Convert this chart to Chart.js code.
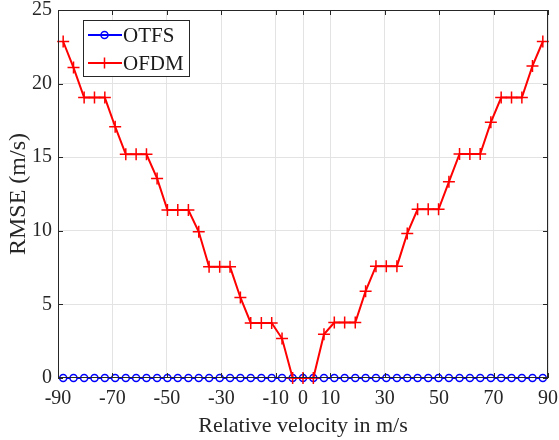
<!DOCTYPE html>
<html>
<head>
<meta charset="utf-8">
<script src="https://cdn.jsdelivr.net/npm/chart.js@4"></script>
<style>
  html, body { margin: 0; padding: 0; background: #fff; }
  #wrap { width: 559px; height: 440px; }
</style>
</head>
<body>
<div id="wrap"><canvas id="chart"></canvas></div>
<script>
// velocity grid (m/s), 47 Doppler bins
var velocity = [-88.1, -84.3, -80.4, -76.6, -72.8, -69.0, -65.1, -61.3, -57.5, -53.6, -49.8, -46.0,
  -42.1, -38.3, -34.5, -30.6, -26.8, -23.0, -19.2, -15.3, -11.5, -7.7, -3.8, 0,
  3.8, 7.7, 11.5, 15.3, 19.2, 23.0, 26.8, 30.6, 34.5, 38.3, 42.1, 46.0,
  49.8, 53.6, 57.5, 61.3, 65.1, 69.0, 72.8, 76.6, 80.4, 84.3, 88.1]

var rmse_otfs = [0, 0, 0, 0, 0, 0, 0, 0, 0, 0, 0, 0, 0, 0, 0, 0, 0, 0, 0, 0, 0, 0, 0, 0,
  0, 0, 0, 0, 0, 0, 0, 0, 0, 0, 0, 0, 0, 0, 0, 0, 0, 0, 0, 0, 0, 0, 0]

var rmse_ofdm = [22.86, 21.09, 19.05, 19.05, 19.05, 17.07, 15.2, 15.2, 15.2, 13.56, 11.41, 11.41,
  11.41, 9.93, 7.55, 7.55, 7.55, 5.47, 3.74, 3.74, 3.74, 2.68, 0, 0,
  0, 2.97, 3.77, 3.77, 3.77, 5.9, 7.6, 7.6, 7.6, 9.82, 11.46, 11.46,
  11.46, 13.33, 15.22, 15.22, 15.22, 17.37, 19.05, 19.05, 19.05, 21.2, 22.86]

var x_ticks = [-90, -70, -50, -30, -10, 0, 10, 30, 50, 70, 90]
var y_ticks = [0, 5, 10, 15, 20, 25]

function toPoints(ys) {
  return ys.map(function (y, i) { return { x: velocity[i], y: y } })
}

var axisColor = '#262626'
var font = 'Liberation Serif'

// box, inner ticks and the legend, matlab style
var matlabBox = {
  id: 'matlabBox',
  afterDatasetsDraw: function (chart) {
    var ctx = chart.ctx
    var a = chart.chartArea
    var xs = chart.scales.x
    var ys = chart.scales.y
    ctx.save()
    ctx.strokeStyle = axisColor
    ctx.lineWidth = 1
    ctx.strokeRect(a.left + 0.5, a.top + 0.5, a.right - a.left - 1, a.bottom - a.top - 1)
    ctx.beginPath()
    x_ticks.forEach(function (v) {
      var px = Math.round(xs.getPixelForValue(v)) + 0.5
      ctx.moveTo(px, a.bottom); ctx.lineTo(px, a.bottom - 5)
      ctx.moveTo(px, a.top); ctx.lineTo(px, a.top + 5)
    })
    y_ticks.forEach(function (v) {
      var py = Math.round(ys.getPixelForValue(v)) + 0.5
      ctx.moveTo(a.left, py); ctx.lineTo(a.left + 5, py)
      ctx.moveTo(a.right, py); ctx.lineTo(a.right - 5, py)
    })
    ctx.stroke()

    // legend
    var lx = a.left + 25, ly = a.top + 10, lw = 106, lh = 56
    ctx.fillStyle = '#fff'
    ctx.fillRect(lx, ly, lw, lh)
    ctx.strokeStyle = axisColor
    ctx.strokeRect(lx + 0.5, ly + 0.5, lw, lh)
    ctx.font = '21px "' + font + '"'
    ctx.textBaseline = 'middle'
    var items = [
      { label: 'OTFS', color: '#0000ff', marker: 'circle' },
      { label: 'OFDM', color: '#ff0000', marker: 'cross' }
    ]
    items.forEach(function (it, i) {
      var cy = ly + 15 + i * 28
      ctx.strokeStyle = it.color
      ctx.lineWidth = 2
      ctx.beginPath(); ctx.moveTo(lx + 5, cy); ctx.lineTo(lx + 39, cy); ctx.stroke()
      ctx.lineWidth = 1.5
      ctx.beginPath()
      if (it.marker === 'circle') {
        ctx.arc(lx + 21.5, cy, 3.5, 0, Math.PI * 2)
      } else {
        ctx.moveTo(lx + 16, cy); ctx.lineTo(lx + 27, cy)
        ctx.moveTo(lx + 21.5, cy - 5.5); ctx.lineTo(lx + 21.5, cy + 5.5)
      }
      ctx.stroke()
      ctx.fillStyle = '#1a1a1a'
      ctx.fillText(it.label, lx + 40, cy + 1)
    })
    ctx.restore()
  }
}

new Chart(
  document.getElementById('chart'),
  {
    type: 'line',
    data: {
      datasets: [
        {
          label: 'OTFS',
          data: toPoints(rmse_otfs),
          borderColor: '#0000ff',
          backgroundColor: '#ffffff',
          borderWidth: 2,
          pointStyle: 'circle',
          pointRadius: 3.5,
          pointBorderWidth: 1.5,
          pointBorderColor: '#0000ff',
          tension: 0,
          clip: false,
          order: 2
        },
        {
          label: 'OFDM',
          data: toPoints(rmse_ofdm),
          borderColor: '#ff0000',
          backgroundColor: '#ff0000',
          borderWidth: 2,
          pointStyle: 'cross',
          pointRadius: 6,
          pointBorderWidth: 1.5,
          pointBorderColor: '#ff0000',
          tension: 0,
          clip: false,
          order: 1
        }
      ]
    },
    options: {
      responsive: true,
      maintainAspectRatio: false,
      animation: false,
      layout: { autoPadding: false, padding: { left: 0, right: 11, top: 10, bottom: 0 } },
      plugins: {
        legend: { display: false },
        tooltip: { enabled: false }
      },
      scales: {
        x: {
          type: 'linear',
          min: -90,
          max: 90,
          afterBuildTicks: function (scale) {
            scale.ticks = x_ticks.map(function (v) { return { value: v } })
          },
          afterFit: function (scale) {
            scale.height = 62
            scale.paddingLeft = 0
            scale.paddingRight = 0
          },
          grid: { color: '#e3e3e3', drawTicks: false },
          border: { display: false },
          ticks: {
            color: axisColor,
            padding: 9,
            maxRotation: 0,
            autoSkip: false,
            font: { family: font, size: 20 }
          },
          title: {
            display: true,
            text: 'Relative velocity in m/s',
            color: axisColor,
            padding: { top: 0, bottom: 1 },
            font: { family: font, size: 22 }
          }
        },
        y: {
          min: 0,
          max: 25,
          afterBuildTicks: function (scale) {
            scale.ticks = y_ticks.map(function (v) { return { value: v } })
          },
          afterFit: function (scale) {
            scale.width = 58
            scale.paddingTop = 0
            scale.paddingBottom = 0
          },
          grid: { color: '#e3e3e3', drawTicks: false },
          border: { display: false },
          ticks: {
            color: axisColor,
            padding: 6,
            font: { family: font, size: 20 }
          },
          title: {
            display: true,
            text: 'RMSE (m/s)',
            color: axisColor,
            padding: { top: 4, bottom: 0 },
            font: { family: font, size: 24 }
          }
        }
      }
    },
    plugins: [matlabBox]
  }
);
</script>
</body>
</html>
